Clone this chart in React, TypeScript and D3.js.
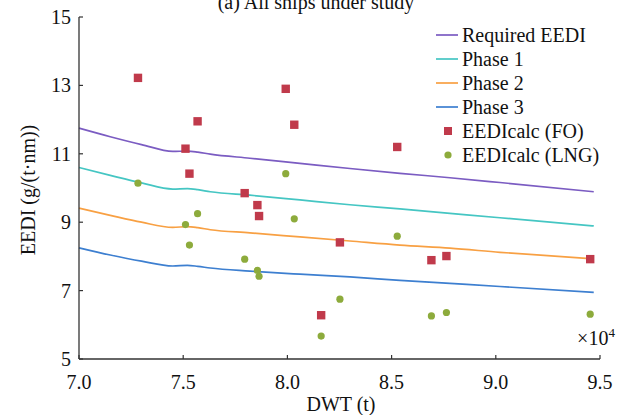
import React from "react";
import * as d3 from "d3";

// ---- data ----
const lineDWT = [70000, 71500, 73000, 74500, 75200, 75700, 76300, 78200, 80600, 83000, 85400, 87800, 90200, 94700];
const requiredEEDI = [11.75, 11.50, 11.27, 11.07, 11.08, 11.05, 10.99, 10.87, 10.72, 10.57, 10.43, 10.30, 10.16, 9.89];
const phase1 = [10.60, 10.37, 10.15, 9.97, 9.98, 9.95, 9.89, 9.79, 9.65, 9.51, 9.39, 9.26, 9.13, 8.89];
const phase2 = [9.41, 9.20, 9.00, 8.85, 8.87, 8.84, 8.78, 8.69, 8.57, 8.45, 8.33, 8.24, 8.12, 7.93];
const phase3 = [8.25, 8.04, 7.86, 7.72, 7.74, 7.71, 7.66, 7.57, 7.48, 7.40, 7.30, 7.21, 7.12, 6.95];

const shipDWT = [72830, 75110, 75300, 75690, 77950, 78560, 78640, 79920, 80330, 81620, 82520, 85270, 86910, 87630, 94530];
const eediFO = [13.22, 11.15, 10.42, 11.95, 9.85, 9.50, 9.18, 12.90, 11.85, 6.28, 8.41, 11.20, 7.89, 8.01, 7.92];
const eediLNG = [10.14, 8.93, 8.33, 9.25, 7.92, 7.59, 7.42, 10.42, 9.10, 5.67, 6.75, 8.59, 6.26, 6.36, 6.31];

const xTicks = [70000, 75000, 80000, 85000, 90000, 95000];
const yTicks = [5, 7, 9, 11, 13, 15];

const lineSeries = [
  { name: "Required EEDI", values: requiredEEDI, color: "#7b5cc2" },
  { name: "Phase 1", values: phase1, color: "#45c6c3" },
  { name: "Phase 2", values: phase2, color: "#f8a043" },
  { name: "Phase 3", values: phase3, color: "#3d7fd0" },
];
const FO_COLOR = "#c03a4b";
const LNG_COLOR = "#8dab3c";

const W = 630;
const H = 415;
const FONT = "'Liberation Serif', 'Times New Roman', serif";

export default function App() {
  const x = d3.scaleLinear().domain([70000, 95000]).range([79, 600]);
  const y = d3.scaleLinear().domain([5, 15]).range([359, 17]);
  const line = d3
    .line<number>()
    .x((_, i) => x(lineDWT[i]))
    .y((d) => y(d))
    .curve(d3.curveMonotoneX);

  const legendX = 436;
  const legendY0 = 35;
  const legendDy = 24;
  const txt = { fontFamily: FONT, fill: "#111" } as const;

  return (
    <svg
      width={W}
      height={H}
      style={{ position: "fixed", left: 0, top: 0, background: "#fff", fontFamily: FONT }}
    >
      <rect width={W} height={H} fill="#fff" />
      {/* title (cut at top, as in the source) */}
      <text x={316} y={9} fontSize={20} textAnchor="middle" style={txt}>
        (a) All ships under study
      </text>

      {/* lines */}
      {lineSeries.map((s) => (
        <path key={s.name} d={line(s.values) || ""} fill="none" stroke={s.color} strokeWidth={1.7} />
      ))}

      {/* scatter FO */}
      {shipDWT.map((d, i) => (
        <rect key={"fo" + i} x={x(d) - 4.2} y={y(eediFO[i]) - 4.2} width={8.4} height={8.4} fill={FO_COLOR} />
      ))}
      {/* scatter LNG */}
      {shipDWT.map((d, i) => (
        <circle key={"lng" + i} cx={x(d)} cy={y(eediLNG[i])} r={3.6} fill={LNG_COLOR} />
      ))}

      {/* axes */}
      <line x1={79} x2={79} y1={17} y2={359} stroke="#333" strokeWidth={1.3} />
      <line x1={79} x2={600} y1={359} y2={359} stroke="#333" strokeWidth={1.3} />
      {yTicks.map((t) => (
        <g key={"yt" + t}>
          <line x1={79} x2={83} y1={y(t)} y2={y(t)} stroke="#333" strokeWidth={1.2} />
          <text x={71} y={y(t)} dy="0.35em" fontSize={20} textAnchor="end" style={txt}>
            {t}
          </text>
        </g>
      ))}
      {xTicks.map((t) => (
        <g key={"xt" + t}>
          <line x1={x(t)} x2={x(t)} y1={359} y2={355} stroke="#333" strokeWidth={1.2} />
          <text x={x(t)} y={389} fontSize={20} textAnchor="middle" style={txt}>
            {(t / 10000).toFixed(1)}
          </text>
        </g>
      ))}
      <text x={596} y={345} fontSize={20} textAnchor="middle" style={txt}>
        ×10<tspan dy={-8} fontSize={13}>4</tspan>
      </text>

      {/* axis labels */}
      <text x={341} y={411} fontSize={20} textAnchor="middle" style={txt}>
        DWT (t)
      </text>
      <text transform={`translate(35, 190) rotate(-90)`} fontSize={20} textAnchor="middle" style={txt}>
        EEDI (g/(t·nm))
      </text>

      {/* legend */}
      {lineSeries.map((s, i) => (
        <g key={"lg" + s.name}>
          <line
            x1={legendX}
            x2={legendX + 22}
            y1={legendY0 + i * legendDy}
            y2={legendY0 + i * legendDy}
            stroke={s.color}
            strokeWidth={1.7}
          />
          <text x={legendX + 26} y={legendY0 + i * legendDy} dy="0.35em" fontSize={20} style={txt}>
            {s.name}
          </text>
        </g>
      ))}
      <rect x={legendX + 8} y={legendY0 + 4 * legendDy - 4} width={8} height={8} fill={FO_COLOR} />
      <text x={legendX + 26} y={legendY0 + 4 * legendDy} dy="0.35em" fontSize={20} style={txt}>
        EEDIcalc (FO)
      </text>
      <circle cx={legendX + 12} cy={legendY0 + 5 * legendDy} r={3.6} fill={LNG_COLOR} />
      <text x={legendX + 26} y={legendY0 + 5 * legendDy} dy="0.35em" fontSize={20} style={txt}>
        EEDIcalc (LNG)
      </text>
    </svg>
  );
}
